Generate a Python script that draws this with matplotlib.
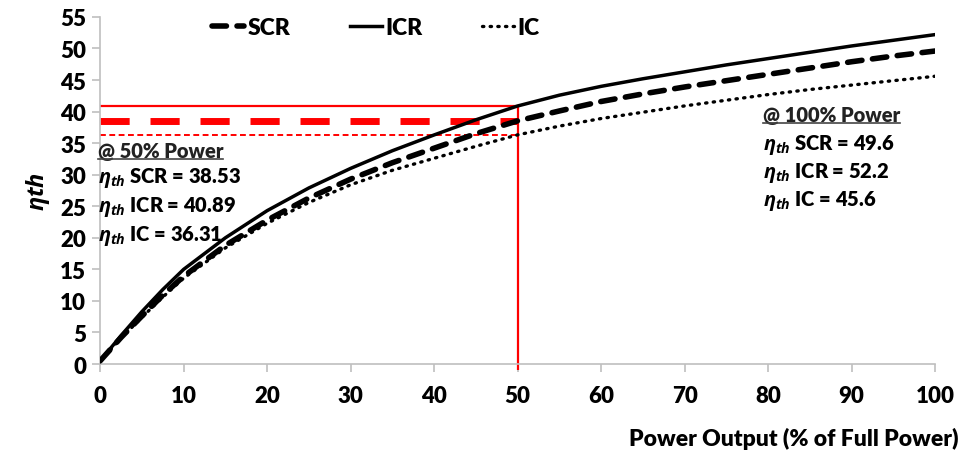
import matplotlib
matplotlib.use("Agg")
import matplotlib.pyplot as plt
from matplotlib.lines import Line2D

plt.rcParams['font.family'] = ['Lato', 'Open Sans', 'DejaVu Sans']
plt.rcParams['mathtext.fontset'] = 'custom'
plt.rcParams['mathtext.it'] = 'Open Sans:italic:bold'
plt.rcParams['mathtext.rm'] = 'Open Sans:bold'
plt.rcParams['mathtext.bf'] = 'Open Sans:bold'

W = 'heavy'

# ---- data ----
power = [0, 2.5, 5, 7.5, 10, 15, 20, 25, 30, 35, 40, 45, 50, 55, 60, 65, 70, 75, 80, 85, 90, 95, 100]
eta_scr = [0.5, 4.2, 7.6, 10.9, 13.9, 18.8, 22.8, 26.3, 29.3, 31.9, 34.2, 36.5, 38.53, 40.1,
           41.6, 42.8, 43.9, 44.9, 45.9, 46.9, 47.9, 48.8, 49.6]
eta_icr = [0.5, 4.5, 8.3, 11.8, 15.0, 20.0, 24.3, 27.9, 31.0, 33.8, 36.3, 38.7, 40.89, 42.6,
           44.0, 45.2, 46.3, 47.4, 48.4, 49.4, 50.4, 51.3, 52.2]
eta_ic = [0.5, 4.1, 7.4, 10.6, 13.6, 18.4, 22.3, 25.6, 28.4, 30.7, 32.6, 34.5, 36.31, 37.7,
          38.9, 39.9, 40.9, 41.8, 42.7, 43.5, 44.2, 44.9, 45.6]
series_names = ['SCR', 'ICR', 'IC']
half_power = 50
half_vals = {'SCR': 38.53, 'ICR': 40.89, 'IC': 36.31}
full_vals = {'SCR': 49.6, 'ICR': 52.2, 'IC': 45.6}
xticks = list(range(0, 101, 10))
yticks = list(range(0, 56, 5))

fig = plt.figure(figsize=(9.63, 4.60), dpi=100)
ax = fig.add_axes([0.104, 0.2065, 0.867, 0.7545])

red = '#ff0000'
# red reference lines
ax.plot([0, half_power], [half_vals['ICR']] * 2, color=red, lw=1.6, solid_capstyle='butt', zorder=2)
ax.plot([0, half_power], [half_vals['SCR']] * 2, color=red, lw=5.0, dashes=(4.2, 3.0),
        dash_capstyle='butt', zorder=2)
ax.plot([0, half_power], [half_vals['IC']] * 2, color=red, lw=1.4, dashes=(3.0, 1.8),
        dash_capstyle='butt', zorder=2)
ax.plot([half_power, half_power], [-1.0, half_vals['ICR']], color=red, lw=1.6,
        solid_capstyle='butt', clip_on=False, zorder=2)

# curves
l_scr, = ax.plot(power, eta_scr, color='black', lw=4.0, dashes=(2.6, 1.9),
                 dash_capstyle='round', label='SCR', zorder=3)
l_icr, = ax.plot(power, eta_icr, color='black', lw=2.5, label='ICR', zorder=3)
l_ic, = ax.plot(power, eta_ic, color='black', lw=2.4, dashes=(0.4, 1.9),
                dash_capstyle='round', label='IC', zorder=3)

ax.set_xlim(0, 100)
ax.set_ylim(0, 55)
ax.set_xticks(xticks)
ax.set_yticks(yticks)
for s in ['top', 'right']:
    ax.spines[s].set_visible(False)
for s in ['left', 'bottom']:
    ax.spines[s].set_color('#bfbfbf')
    ax.spines[s].set_linewidth(1.2)
ax.tick_params(axis='both', direction='out', length=6, width=1.2, color='#bfbfbf',
               labelsize=16, pad=4)
for lab in ax.get_xticklabels() + ax.get_yticklabels():
    lab.set_fontweight(W)
ax.tick_params(axis='x', pad=9)

ax.set_ylabel(r'$\eta th$', fontsize=17, labelpad=6)
fig.text(0.995, 0.045, 'Power Output (% of Full Power)', ha='right', va='center',
         fontsize=16.5, fontweight=W)

leg = ax.legend(handles=[l_scr, l_icr, l_ic], loc='upper center', ncol=3, frameon=False,
                bbox_to_anchor=(0.33, 1.06), handlelength=1.4,
                handletextpad=0.15, columnspacing=2.6, prop={'weight': W, 'size': 16.5})

# annotations
fs = 14.5
t50 = ax.text(-0.3, 33.8, '@ 50% Power', fontsize=fs, fontweight=W, color='#222222',
              va='center', ha='left')
ax.text(-0.3, 29.6, r'$\eta_{th}$ SCR = %.2f' % half_vals['SCR'], fontsize=fs,
        fontweight=W, va='center', ha='left')
ax.text(-0.3, 25.0, r'$\eta_{th}$ ICR = %.2f' % half_vals['ICR'], fontsize=fs,
        fontweight=W, va='center', ha='left')
ax.text(-0.3, 20.4, r'$\eta_{th}$ IC = %.2f' % half_vals['IC'], fontsize=fs,
        fontweight=W, va='center', ha='left')

t100 = ax.text(79.4, 39.5, '@ 100% Power', fontsize=fs, fontweight=W, color='#222222',
               va='center', ha='left')
ax.text(79.4, 34.9, r'$\eta_{th}$ SCR = %.1f' % full_vals['SCR'], fontsize=fs,
        fontweight=W, va='center', ha='left')
ax.text(79.4, 30.4, r'$\eta_{th}$ ICR = %.1f' % full_vals['ICR'], fontsize=fs,
        fontweight=W, va='center', ha='left')
ax.text(79.4, 26.0, r'$\eta_{th}$ IC = %.1f' % full_vals['IC'], fontsize=fs,
        fontweight=W, va='center', ha='left')

# underline the headers
fig.canvas.draw()
renderer = fig.canvas.get_renderer()
for t in (t50, t100):
    bb = t.get_window_extent(renderer)
    inv = fig.transFigure.inverted()
    (x0, y0), (x1, y1) = inv.transform([(bb.x0, bb.y0 + 1), (bb.x1, bb.y0 + 1)])
    fig.add_artist(Line2D([x0, x1], [y0, y1], color='#444444', lw=1.2,
                          transform=fig.transFigure))

fig.savefig('out.png', dpi=100)
